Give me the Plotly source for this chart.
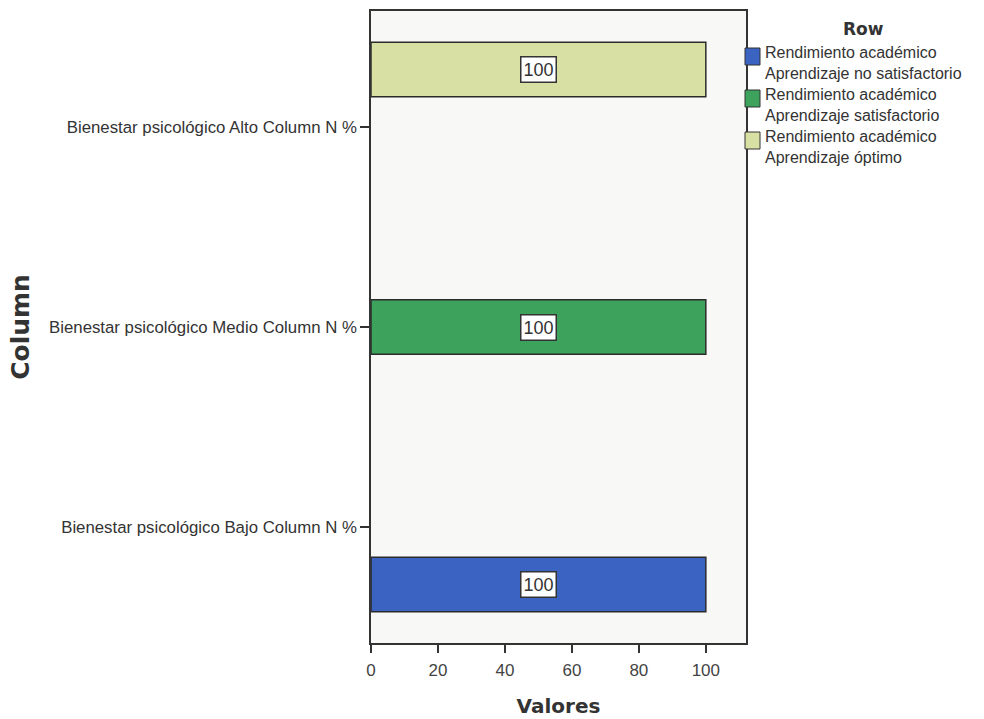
import plotly.graph_objects as go

# Categories (bottom to top) and the share of each performance level
categories = [
    "Bienestar psicológico Bajo Column N %",
    "Bienestar psicológico Medio Column N %",
    "Bienestar psicológico Alto Column N %",
]
series_names = [
    "Rendimiento académico<br>Aprendizaje no satisfactorio",
    "Rendimiento académico<br>Aprendizaje satisfactorio",
    "Rendimiento académico<br>Aprendizaje óptimo",
]
no_satisfactorio = [100, None, None]
satisfactorio = [None, 100, None]
optimo = [None, None, 100]
series_values = [no_satisfactorio, satisfactorio, optimo]
series_colors = ["#3b64c2", "#3da35c", "#d9e0a3"]
x_ticks = [0, 20, 40, 60, 80, 100]

BARGAP = 0.1375
GROUPGAP = 0.05
TICK_FONT = "Liberation Sans, Arial, sans-serif"
TITLE_FONT = "DejaVu Sans, Verdana, sans-serif"

W, H = 984, 719
ML, MR, MT, MB = 371, 238, 11, 76
PW, PH = W - ML - MR, H - MT - MB


def px_x(x):
    return (x - ML) / PW


def px_y(y):
    return 1 - (y - MT) / PH


fig = go.Figure()
for name, vals, color in zip(series_names, series_values, series_colors):
    fig.add_trace(go.Bar(
        y=categories, x=vals, name=name.replace("<br>", " "), orientation="h",
        marker=dict(color=color, line=dict(color="#2b2b2b", width=1.5)),
        showlegend=False,
    ))

# Value labels in white boxes at the middle of each bar
n = len(series_values)
slot = (1 - BARGAP) / n
for i, vals in enumerate(series_values):
    offset = -(1 - BARGAP) / 2 + slot * (i + 0.5)
    for j, v in enumerate(vals):
        if v is None:
            continue
        fig.add_annotation(
            x=v / 2, y=j + offset, xref="x", yref="y",
            text=f"{v:g}", showarrow=False,
            font=dict(family=TICK_FONT, size=18, color="#333333"),
            bgcolor="white", bordercolor="#333333", borderwidth=1.5, borderpad=2,
        )

# Legend drawn beside the plot area
fig.add_annotation(
    x=px_x(863), y=px_y(29), xref="paper", yref="paper", text="<b>Row</b>",
    showarrow=False, xanchor="center", yanchor="middle",
    font=dict(family=TITLE_FONT, size=17, color="#333333"),
)
leg_step = 42
for i, (name, color) in enumerate(zip(series_names, series_colors)):
    top = 48 + i * leg_step
    fig.add_shape(
        type="rect", xref="paper", yref="paper",
        x0=px_x(745), x1=px_x(760), y0=px_y(top + 17), y1=px_y(top),
        fillcolor=color, line=dict(color="#333333", width=1),
    )
    fig.add_annotation(
        x=px_x(763), y=px_y(top - 6), xref="paper", yref="paper",
        text=name, showarrow=False, xanchor="left", yanchor="top", align="left",
        font=dict(family=TICK_FONT, size=16, color="#333333"),
    )

fig.update_layout(
    width=W, height=H,
    margin=dict(l=ML, r=MR, t=MT, b=MB),
    barmode="group", bargap=BARGAP, bargroupgap=GROUPGAP,
    paper_bgcolor="white", plot_bgcolor="#f8f8f7",
    font=dict(family=TICK_FONT, color="#333333"),
)
fig.update_xaxes(
    range=[0, 112], tickvals=x_ticks, showgrid=False, zeroline=False,
    showline=True, mirror=True, linecolor="#333333", linewidth=1.5,
    ticks="outside", ticklen=8, tickwidth=1.5, tickcolor="#333333",
    ticklabelstandoff=3, automargin=False,
    tickfont=dict(family=TICK_FONT, size=17, color="#444444"),
    title=dict(text="<b>Valores</b>", standoff=20,
               font=dict(family=TITLE_FONT, size=20, color="#333333")),
)
fig.update_yaxes(
    type="category", categoryorder="array", categoryarray=categories,
    range=[-0.58, 2.58], showgrid=False, zeroline=False,
    showline=True, mirror=True, linecolor="#333333", linewidth=1.5,
    ticks="outside", ticklen=9, tickwidth=1.5, tickcolor="#333333",
    ticklabelstandoff=0,
    tickfont=dict(family=TICK_FONT, size=16.8, color="#333333"),
    title=dict(text="<b>Column</b>", standoff=12,
               font=dict(family=TITLE_FONT, size=25, color="#333333")),
)

fig.write_html("out.html")
